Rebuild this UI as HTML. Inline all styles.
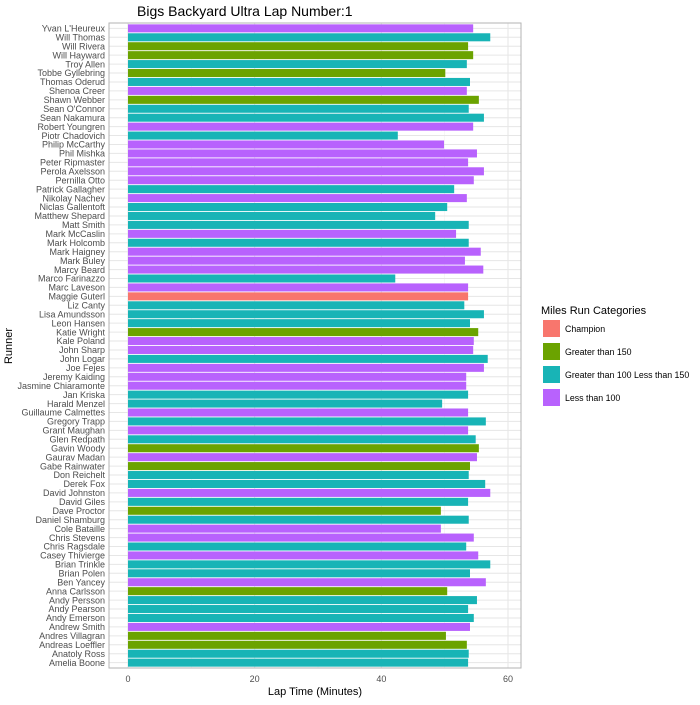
<!DOCTYPE html>
<html><head><meta charset="utf-8"><style>
body{margin:0;background:#fff;font-family:"Liberation Sans",sans-serif}
svg text{font-family:"Liberation Sans",sans-serif}
</style></head><body>
<svg id="chart" width="700" height="700" xmlns="http://www.w3.org/2000/svg"></svg>
<script>
const runners=["Yvan L'Heureux","Will Thomas","Will Rivera","Will Hayward","Troy Allen","Tobbe Gyllebring","Thomas Oderud","Shenoa Creer","Shawn Webber","Sean O'Connor","Sean Nakamura","Robert Youngren","Piotr Chadovich","Philip McCarthy","Phil Mishka","Peter Ripmaster","Perola Axelsson","Pernilla Otto","Patrick Gallagher","Nikolay Nachev","Niclas Gallentoft","Matthew Shepard","Matt Smith","Mark McCaslin","Mark Holcomb","Mark Haigney","Mark Buley","Marcy Beard","Marco Farinazzo","Marc Laveson","Maggie Guterl","Liz Canty","Lisa Amundsson","Leon Hansen","Katie Wright","Kale Poland","John Sharp","John Logar","Joe Fejes","Jeremy Kaiding","Jasmine Chiaramonte","Jan Kriska","Harald Menzel","Guillaume Calmettes","Gregory Trapp","Grant Maughan","Glen Redpath","Gavin Woody","Gaurav Madan","Gabe Rainwater","Don Reichelt","Derek Fox","David Johnston","David Giles","Dave Proctor","Daniel Shamburg","Cole Bataille","Chris Stevens","Chris Ragsdale","Casey Thivierge","Brian Trinkle","Brian Polen","Ben Yancey","Anna Carlsson","Andy Persson","Andy Pearson","Andy Emerson","Andrew Smith","Andres Villagran","Andreas Loeffler","Anatoly Ross","Amelia Boone"];
const lapTimes=[54.5,57.2,53.7,54.5,53.5,50.1,54.0,53.5,55.4,53.8,56.2,54.5,42.6,49.9,55.1,53.7,56.2,54.6,51.5,53.5,50.4,48.5,53.8,51.8,53.8,55.7,53.2,56.1,42.2,53.7,53.7,53.1,56.2,54.0,55.3,54.6,54.5,56.8,56.2,53.4,53.4,53.7,49.6,53.7,56.5,53.7,54.9,55.4,55.1,54.0,53.8,56.4,57.2,53.7,49.4,53.8,49.4,54.6,53.4,55.3,57.2,54.0,56.5,50.4,55.1,53.7,54.6,54.0,50.2,53.5,53.8,53.7];
const cats=["P","T","G","G","T","G","T","P","G","T","T","P","T","P","P","P","P","P","T","P","T","T","T","P","T","P","P","P","T","P","C","T","T","T","G","P","P","T","P","P","P","T","T","P","T","P","T","G","P","G","T","T","P","T","G","T","P","P","T","P","T","T","P","G","T","T","T","P","G","G","T","T"];
const legendLabels=["Champion","Greater than 150","Greater than 100 Less than 150","Less than 100"];
const legendKeys=["C","G","T","P"];
const xTicks=[0,20,40,60];
const xMinor=[10,30,50];
const colors={C:"#F8766D",G:"#6BA300",T:"#18B4B6",P:"#B862FD"};
const NS="http://www.w3.org/2000/svg";
const svg=document.getElementById('chart');
const L=109,R=521,T=23,B=668;
const xs=v=>128+v*(508-128)/60;
const band=(B-T)/(runners.length+0.2);
const ys=i=>T+band*(0.6+i);
function mk(tag,attrs,parent){const e=document.createElementNS(NS,tag);for(const k in attrs)e.setAttribute(k,attrs[k]);(parent||svg).appendChild(e);return e;}
const panel=mk('rect',{x:L,y:T,width:R-L,height:B-T,fill:'#fff',stroke:'none'});


xMinor.forEach(v=>{const l=mk('line',{x1:xs(v),x2:xs(v),y1:T,y2:B,stroke:'#f2f2f2','stroke-width':0.6});

});
xTicks.forEach(v=>{const l=mk('line',{x1:xs(v),x2:xs(v),y1:T,y2:B,stroke:'#e6e6e6','stroke-width':1});


const t=mk('text',{x:xs(v),y:682,'font-size':9,fill:'#4d4d4d','text-anchor':'middle'});t.textContent=v;

});
runners.forEach((n,i)=>{const y=ys(i);
const g=mk('line',{x1:L,x2:R,y1:y,y2:y,stroke:'#e6e6e6','stroke-width':1});


const bh=band*0.9;
const r=mk('rect',{x:xs(0),y:y-bh/2,width:xs(lapTimes[i])-xs(0),height:bh,fill:colors[cats[i]]});


const t=mk('text',{x:L-4,y:y+3.2,'font-size':9,fill:'#4d4d4d','text-anchor':'end'});t.textContent=n;

});
const border=mk('rect',{x:L,y:T,width:R-L,height:B-T,fill:'none',stroke:'#b3b3b3','stroke-width':1});


const title=mk('text',{x:137,y:16,'font-size':14,fill:'#000'});title.textContent='Bigs Backyard Ultra Lap Number:1';


const xt=mk('text',{x:315,y:695,'font-size':11,fill:'#000','text-anchor':'middle'});xt.textContent='Lap Time (Minutes)';


const yt=mk('text',{x:12,y:346,'font-size':11,fill:'#000','text-anchor':'middle',transform:'rotate(-90 12 346)'});yt.textContent='Runner';


const lt=mk('text',{x:541,y:314,'font-size':11,fill:'#000'});lt.textContent='Miles Run Categories';


legendKeys.forEach((k,i)=>{const y=320+i*23;
const r=mk('rect',{x:543,y:y,width:17,height:17,fill:colors[k]});


const t=mk('text',{x:565,y:y+12,'font-size':8.8,fill:'#000'});t.textContent=legendLabels[i];

});
</script>
</body></html>
